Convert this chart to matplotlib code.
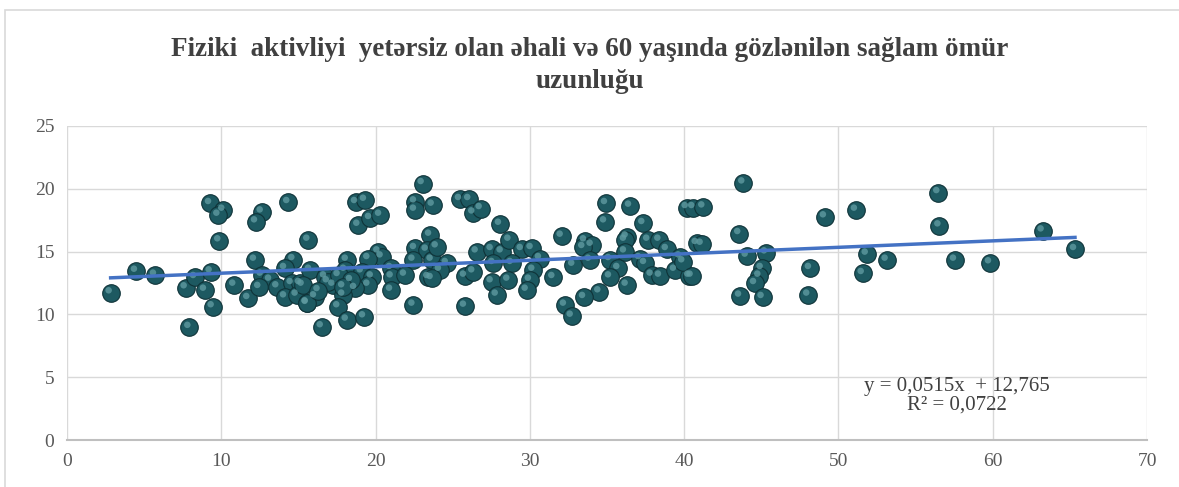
import numpy as np
import matplotlib
matplotlib.use('Agg')
import matplotlib.pyplot as plt
from matplotlib.patches import Rectangle
from matplotlib.transforms import offset_copy

# Fiziki aktivliyi yetersiz olan ehali (%) -- x
fiziki = [2.83, 4.47, 5.70, 7.69, 8.30, 8.94, 7.93, 9.27, 10.13, 9.81, 9.87, 9.31, 9.44,
          10.84, 11.75, 12.18, 12.62, 12.25, 14.34, 14.67, 14.13, 12.62, 13.16, 12.46,
          13.63, 14.56, 14.13, 15.10, 14.88, 15.53, 15.64,
          18.73, 19.31, 18.88, 19.64, 20.29, 23.05, 22.55, 22.55, 23.70, 23.53, 22.55,
          23.31, 20.18, 20.39, 19.53, 18.13, 22.45, 23.63, 15.75, 16.72, 18.02, 19.10,
          21.00, 21.04, 21.90, 23.42, 19.75, 19.53, 17.26, 18.67, 21.00, 15.27, 16.07,
          15.53, 17.90, 17.58, 18.13, 19.25, 16.51, 22.45, 16.9, 17.6, 18.4, 16.3, 17.9,
          25.47, 26.07, 26.33, 26.81, 28.06, 23.96, 26.55, 27.52, 28.17, 28.67, 29.47,
          30.11, 30.65, 32.06, 24.61, 24.17, 23.63, 25.79, 26.33, 27.63, 28.82, 30.22,
          27.52, 28.60, 30.00, 29.79, 27.85, 31.52, 25.79, 32.27, 32.71,
          34.93, 36.49, 34.87, 37.35, 33.57, 34.00, 33.46, 36.27, 36.16, 37.67, 38.39,
          38.87, 36.16, 35.19, 37.14, 39.73, 32.81, 33.89, 35.73, 37.46, 35.19, 37.89,
          38.43, 39.40, 40.33, 39.94, 36.27, 34.50, 33.51, 40.16, 40.59, 40.81,
          43.83, 41.24, 49.12, 43.57, 41.13, 44.05, 45.30, 40.48, 45.02, 44.87, 44.59,
          48.15, 43.62, 45.08, 48.04,
          51.13, 56.47, 56.54, 51.83, 53.12, 51.57, 57.55, 59.82, 63.23, 65.33]

# 60 yasinda gozlenilen saglam omur uzunlugu -- y
omur = [11.72, 13.44, 13.13, 12.12, 12.94, 11.93, 8.97, 18.83, 18.30, 17.90, 15.86, 13.39, 10.61,
        12.33, 11.27, 14.32, 18.16, 17.37, 18.91, 14.37, 13.66, 13.13, 12.73, 12.15,
        12.20, 12.46, 11.40, 12.46, 11.54, 10.88, 15.91,
        18.91, 19.09, 17.10, 17.64, 17.90, 20.42, 18.96, 18.30, 18.70, 16.31, 15.25,
        15.12, 14.98, 14.58, 14.45, 14.32, 14.32, 14.32, 13.52, 12.99, 13.52, 13.39,
        13.66, 12.99, 13.13, 12.94, 12.99, 12.33, 12.33, 12.07, 11.93, 12.33, 11.40,
        10.93, 11.54, 10.61, 9.55, 9.81, 9.02, 10.74, 12.6, 13.1, 12.7, 11.9, 12.2,
        19.15, 19.15, 18.08, 18.43, 17.18, 15.38, 14.98, 15.17, 14.98, 15.91, 15.17,
        15.25, 14.45, 16.23, 14.06, 13.52, 12.86, 13.05, 13.39, 14.06, 14.06, 13.52,
        12.60, 12.73, 12.73, 11.93, 11.54, 12.94, 10.66, 10.74, 9.86,
        18.83, 18.62, 17.37, 17.24, 15.86, 15.51, 15.33, 16.17, 15.91, 15.91, 15.91,
        15.17, 14.98, 14.37, 14.45, 14.58, 13.92, 14.32, 13.66, 14.06, 12.99, 13.13,
        13.05, 13.52, 13.05, 14.19, 12.33, 11.80, 11.35, 18.51, 18.51, 15.65,
        20.47, 18.56, 17.77, 16.44, 15.59, 14.64, 14.90, 13.05, 13.66, 13.05, 12.46,
        13.66, 11.46, 11.35, 11.54,
        18.30, 19.70, 17.05, 14.80, 14.32, 13.26, 14.32, 14.11, 16.65, 15.17]

x = np.array(fiziki)
y = np.array(omur)

fig = plt.figure(figsize=(11.79, 4.87), dpi=100)
ax = fig.add_axes([0.0568, 0.0965, 0.9161, 0.6448])

# cerceve
fig.patches.append(Rectangle((5/1179, -0.1), 1.2, 1.0 - 10/487 + 0.1, transform=fig.transFigure,
                             fill=False, edgecolor='#d9d9d9', linewidth=1.2))

# toplar (kure effekti)
ax.scatter(x, y, s=160, color='#1d5961', edgecolors='#0f3338', linewidths=0.8, zorder=3)
hl = offset_copy(ax.transData, fig=fig, x=-2, y=2.5, units='dots')
ax.scatter(x, y, s=22, color='#5f9aa0', edgecolors='none', alpha=0.8, zorder=4, transform=hl)

# trend xetti
b, a = 0.0515, 12.765
xt = np.array([x.min(), x.max()])
ax.plot(xt, a + b*xt, color='#4472c4', linewidth=2.5, zorder=5)

ax.set_xlim(0, 70)
ax.set_ylim(0, 25)
ax.set_xticks(range(0, 71, 10))
ax.set_yticks(range(0, 26, 5))
ax.grid(True, color='#d9d9d9', linewidth=1)
ax.set_axisbelow(True)
for s in ['top', 'right', 'left']:
    ax.spines[s].set_visible(False)
ax.spines['bottom'].set_color('#bfbfbf')
ax.spines['bottom'].set_linewidth(1.5)
ax.tick_params(length=0, pad=9, labelcolor='#595959', labelsize=14)
for lab in ax.get_xticklabels() + ax.get_yticklabels():
    lab.set_fontfamily('Liberation Serif')

ax.text(57.7, 3.5, 'y = 0,0515x  + 12,765\nR² = 0,0722', ha='center', va='center',
        fontsize=15, color='#404040', family='Liberation Serif', linespacing=1.0)

fig.text(0.5, 0.866, 'Fiziki  aktivliyi  yetərsiz olan əhali və 60 yaşında gözlənilən sağlam ömür\nuzunluğu',
         ha='center', va='center', fontsize=19.5, fontweight='bold', color='#404040',
         family='Liberation Serif', linespacing=1.35)

fig.savefig('out.png', dpi=100)
